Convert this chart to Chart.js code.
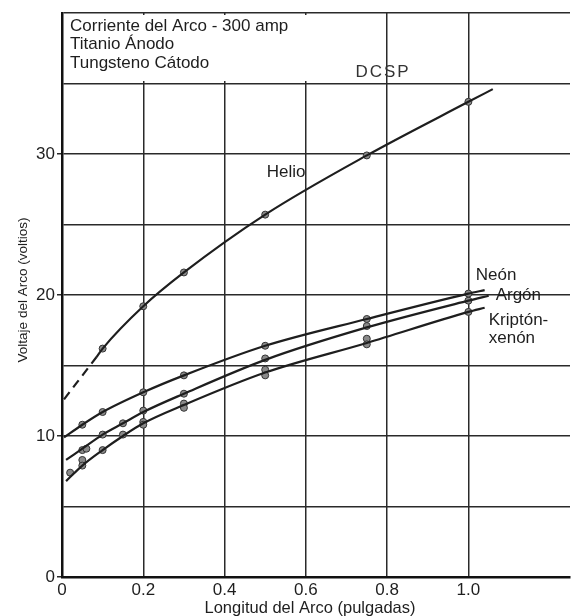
<!DOCTYPE html>
<html>
<head>
<meta charset="utf-8">
<script src="https://cdn.jsdelivr.net/npm/chart.js@4.4.0/dist/chart.umd.min.js"></script>
<style>
  html, body { margin: 0; padding: 0; background: #fff; }
  canvas { display: block; }
</style>
</head>
<body>
<canvas id="arcChart" width="575" height="616"></canvas>
<script>
// Arc voltage vs arc length (300 amp, Ti anode, W cathode, DCSP)

const xTicks = [0, 0.2, 0.4, 0.6, 0.8, 1.0];
const yLabeled = [0, 10, 20, 30];

// Helio
const helioCurveX = [0.085, 0.1, 0.2, 0.3, 0.5, 0.75, 1.0, 1.06];
const helioCurveV = [15.6, 16.2, 19.2, 21.6, 25.7, 29.9, 33.7, 34.6];
const helioDashX = [0.005, 0.085];
const helioDashV = [12.6, 15.6];
const helioPtsX = [0.1, 0.2, 0.3, 0.5, 0.75, 1.0];
const helioPtsV = [16.2, 19.2, 21.6, 25.7, 29.9, 33.7];

// Neón
const neonCurveX = [0.005, 0.05, 0.1, 0.2, 0.3, 0.5, 0.75, 1.0, 1.04];
const neonCurveV = [9.9, 10.8, 11.7, 13.1, 14.3, 16.4, 18.3, 20.1, 20.35];
const neonPtsX = [0.05, 0.1, 0.2, 0.3, 0.5, 0.75, 1.0];
const neonPtsV = [10.8, 11.7, 13.1, 14.3, 16.4, 18.3, 20.1];

// Argón
const argonCurveX = [0.01, 0.05, 0.1, 0.15, 0.2, 0.3, 0.5, 0.75, 1.0, 1.05];
const argonCurveV = [8.3, 9.1, 10.1, 10.9, 11.7, 13.0, 15.4, 17.7, 19.6, 19.95];
const argonPtsX = [0.05, 0.06, 0.1, 0.15, 0.2, 0.3, 0.5, 0.75, 1.0];
const argonPtsV = [9.0, 9.1, 10.1, 10.9, 11.8, 13.0, 15.5, 17.8, 19.6];

// Kriptón-xenón
const kxCurveX = [0.01, 0.05, 0.1, 0.15, 0.2, 0.3, 0.5, 0.75, 1.0, 1.04];
const kxCurveV = [6.8, 7.9, 9.0, 10.0, 10.9, 12.2, 14.5, 16.6, 18.8, 19.1];
const kxPtsX = [0.02, 0.05, 0.05, 0.1, 0.15, 0.2, 0.2, 0.3, 0.3, 0.5, 0.5, 0.75, 0.75, 1.0];
const kxPtsV = [7.4, 8.3, 7.9, 9.0, 10.1, 11.0, 10.8, 12.3, 12.0, 14.7, 14.3, 16.9, 16.5, 18.8];

// curve labels: text, x, voltage
const curveLabels = ['Helio', 'Neón', 'Argón', 'Kriptón-', 'xenón'];
const curveLabelX = [0.504, 1.018, 1.067, 1.05, 1.05];
const curveLabelV = [28.7, 21.4, 20.0, 18.2, 16.95];

const boxLines = ['Corriente del Arco - 300 amp', 'Titanio Ánodo', 'Tungsteno Cátodo'];

const pts = (xs, ys) => xs.map((x, i) => ({ x: x, y: ys[i] }));

const INK = '#1e1e1e';
const FONT = '"Liberation Sans", Arial, sans-serif';

function curve(xs, ys, dash) {
  return {
    type: 'line',
    data: pts(xs, ys),
    borderColor: INK,
    borderWidth: 2.2,
    borderDash: dash || [],
    pointRadius: 0,
    cubicInterpolationMode: 'monotone',
    fill: false
  };
}

function marks(xs, ys) {
  return {
    type: 'scatter',
    data: pts(xs, ys),
    pointRadius: 3.5,
    backgroundColor: '#8a8a8a',
    borderColor: '#333',
    borderWidth: 1
  };
}

const textPlugin = {
  id: 'texts',
  beforeDatasetsDraw(chart) {
    const { ctx, chartArea: a } = chart;
    // white box behind the conditions text
    ctx.save();
    ctx.fillStyle = '#fff';
    ctx.fillRect(a.left + 2, a.top + 2, 246, 66);
    ctx.restore();
  },
  afterDraw(chart) {
    const { ctx, chartArea: a, scales } = chart;
    ctx.save();
    ctx.fillStyle = INK;
    ctx.textBaseline = 'middle';

    ctx.font = '17px ' + FONT;
    ctx.textAlign = 'left';
    boxLines.forEach((t, i) => ctx.fillText(t, a.left + 8, a.top + 13 + i * 18.5));

    curveLabels.forEach((t, i) => {
      ctx.fillText(t, scales.x.getPixelForValue(curveLabelX[i]), scales.y.getPixelForValue(curveLabelV[i]));
    });

    ctx.fillStyle = '#333';
    ctx.textAlign = 'center';
    ctx.letterSpacing = '2px';
    ctx.fillText('DCSP', scales.x.getPixelForValue(0.79), scales.y.getPixelForValue(35.8));
    ctx.letterSpacing = '0px';

    ctx.fillStyle = INK;
    ctx.font = '16.5px ' + FONT;
    ctx.fillText('Longitud del Arco (pulgadas)', 310, 608);

    ctx.translate(23, 290);
    ctx.rotate(-Math.PI / 2);
    ctx.font = '13.5px ' + FONT;
    ctx.fillText('Voltaje del Arco (voltios)', 0, 0);
    ctx.restore();
  }
};

new Chart(document.getElementById('arcChart'), {
  data: {
    datasets: [
      curve(helioDashX, helioDashV, [9, 6]),
      curve(helioCurveX, helioCurveV),
      curve(neonCurveX, neonCurveV),
      curve(argonCurveX, argonCurveV),
      curve(kxCurveX, kxCurveV),
      marks(helioPtsX, helioPtsV),
      marks(neonPtsX, neonPtsV),
      marks(argonPtsX, argonPtsV),
      marks(kxPtsX, kxPtsV)
    ]
  },
  options: {
    responsive: false,
    devicePixelRatio: 1,
    animation: false,
    layout: { padding: { top: 13, right: 0, bottom: 0, left: 0 } },
    plugins: {
      legend: { display: false },
      tooltip: { enabled: false }
    },
    scales: {
      x: {
        type: 'linear',
        min: 0,
        max: 1.25,
        afterBuildTicks: s => { s.ticks = xTicks.map(v => ({ value: v })); },
        afterFit: s => { s.height = 39; },
        grid: { color: '#2a2a2a', lineWidth: 1.5, drawTicks: false },
        border: { color: '#111', width: 2.5 },
        ticks: {
          padding: 3,
          color: INK,
          font: { family: FONT, size: 17 },
          callback: v => (v === 0 ? '0' : v.toFixed(1))
        }
      },
      y: {
        type: 'linear',
        min: 0,
        max: 40,
        afterFit: s => { s.width = 62; },
        grid: {
          color: '#2a2a2a',
          lineWidth: 1.5,
          tickLength: 5,
          tickColor: c => (yLabeled.includes(c.tick.value) ? '#2a2a2a' : 'rgba(0,0,0,0)')
        },
        border: { color: '#111', width: 2.5 },
        ticks: {
          stepSize: 5,
          padding: 2,
          color: INK,
          font: { family: FONT, size: 17 },
          callback: v => (yLabeled.includes(v) ? String(v) : '')
        }
      }
    }
  },
  plugins: [textPlugin]
});
</script>
</body>
</html>
